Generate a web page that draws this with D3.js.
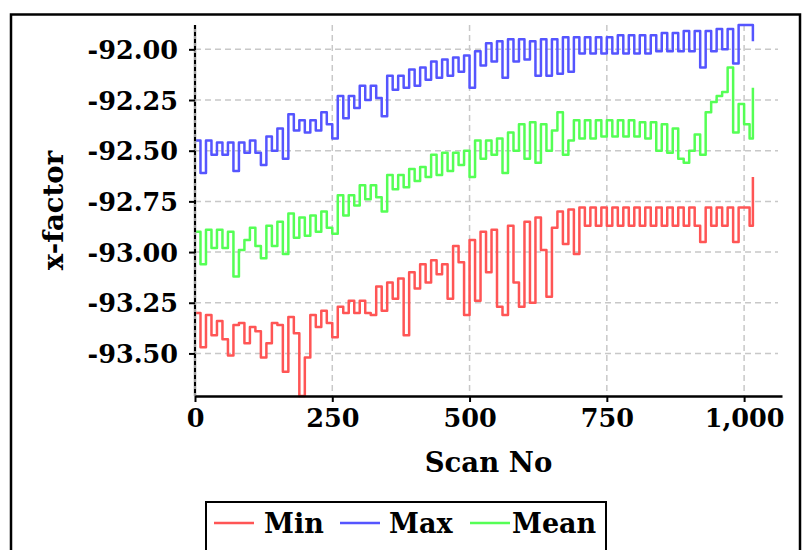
<!DOCTYPE html>
<html>
<head>
<meta charset="utf-8">
<script src="https://cdn.jsdelivr.net/npm/d3@7"></script>
<style>
	body { margin: 0; background: #fff; }
	text { font-family: "DejaVu Serif", serif; font-weight: bold; fill: #000; }
</style>
</head>
<body>
<div id="chart"></div>
<script>
// data: one value every 10 scans, last one at scan 1016
var seriesNames = ["Min", "Max", "Mean"];
var seriesColors = ["#ff5555", "#5555ff", "#55ff55"];

var minValues = [
	-93.30,-93.47,-93.31,-93.41,-93.34,-93.43,-93.51,-93.36,-93.35,-93.45,
	-93.37,-93.39,-93.52,-93.45,-93.35,-93.36,-93.59,-93.32,-93.40,-93.71,
	-93.52,-93.31,-93.37,-93.29,-93.35,-93.42,-93.27,-93.30,-93.24,-93.30,
	-93.24,-93.30,-93.31,-93.17,-93.29,-93.15,-93.23,-93.13,-93.41,-93.10,
	-93.18,-93.06,-93.15,-93.04,-93.11,-93.06,-93.23,-92.97,-93.05,-93.31,
	-92.94,-93.24,-92.90,-93.10,-92.89,-93.27,-93.31,-92.87,-93.15,-93.27,
	-92.85,-93.25,-92.83,-92.99,-93.22,-92.88,-92.80,-92.96,-92.79,-93.01,
	-92.78,-92.87,-92.78,-92.87,-92.78,-92.87,-92.78,-92.87,-92.78,-92.87,
	-92.78,-92.87,-92.78,-92.87,-92.78,-92.87,-92.78,-92.87,-92.78,-92.87,
	-92.78,-92.87,-92.95,-92.78,-92.87,-92.78,-92.87,-92.78,-92.95,-92.78,
	-92.78,-92.87,-92.63
];

var maxValues = [
	-92.45,-92.61,-92.45,-92.52,-92.46,-92.52,-92.46,-92.60,-92.46,-92.51,
	-92.45,-92.51,-92.57,-92.43,-92.50,-92.39,-92.54,-92.32,-92.40,-92.35,
	-92.41,-92.35,-92.40,-92.31,-92.37,-92.44,-92.23,-92.34,-92.23,-92.29,
	-92.18,-92.25,-92.18,-92.24,-92.33,-92.13,-92.20,-92.13,-92.19,-92.10,
	-92.18,-92.09,-92.15,-92.06,-92.14,-92.05,-92.13,-92.04,-92.11,-92.03,
	-92.19,-92.01,-92.08,-91.97,-92.06,-91.96,-92.14,-91.95,-92.06,-91.95,
	-92.05,-91.96,-92.13,-91.95,-92.13,-91.95,-92.12,-91.94,-92.11,-91.94,
	-92.02,-91.94,-92.02,-91.94,-92.02,-91.94,-92.02,-91.93,-92.02,-91.93,
	-92.02,-91.93,-92.02,-91.93,-92.01,-91.92,-92.01,-91.92,-92.01,-91.91,
	-92.01,-91.91,-92.09,-91.91,-92.01,-91.90,-92.00,-91.90,-92.07,-91.88,
	-91.88,-91.88,-91.96
];

var meanValues = [
	-92.90,-93.06,-92.89,-92.98,-92.89,-92.98,-92.90,-93.12,-92.99,-92.94,
	-92.88,-92.97,-93.03,-92.87,-92.97,-92.85,-93.01,-92.81,-92.93,-92.83,
	-92.92,-92.82,-92.90,-92.80,-92.88,-92.91,-92.72,-92.82,-92.72,-92.77,
	-92.67,-92.74,-92.67,-92.73,-92.80,-92.62,-92.69,-92.62,-92.68,-92.59,
	-92.65,-92.58,-92.63,-92.52,-92.62,-92.51,-92.60,-92.51,-92.57,-92.50,
	-92.63,-92.45,-92.54,-92.45,-92.52,-92.44,-92.61,-92.41,-92.50,-92.37,
	-92.54,-92.36,-92.56,-92.37,-92.50,-92.40,-92.31,-92.52,-92.45,-92.35,
	-92.44,-92.35,-92.44,-92.35,-92.43,-92.35,-92.43,-92.35,-92.43,-92.35,
	-92.43,-92.36,-92.44,-92.36,-92.50,-92.37,-92.51,-92.39,-92.54,-92.56,
	-92.50,-92.42,-92.52,-92.31,-92.26,-92.23,-92.21,-92.09,-92.41,-92.27,
	-92.37,-92.44,-92.19
];

var scanStep = 10, lastScan = 1016;
var xTicks = [0, 250, 500, 750, 1000];
var yTicks = [-92.00, -92.25, -92.50, -92.75, -93.00, -93.25, -93.50];

// magic numbers
var width = 812, height = 550;
var plot = {left: 195, right: 782, top: 25, bottom: 396};

var svg = d3.select("#chart").append("svg")
		.attr("width", width)
		.attr("height", height);

// outer frame, runs off the bottom of the picture
svg.append("rect")
		.attr("x", 11)
		.attr("y", 14.5)
		.attr("width", 789)
		.attr("height", 600)
		.attr("fill", "none")
		.attr("stroke", "#000")
		.attr("stroke-width", 2.5);

function scanOf(i, arr){ return i == arr.length - 1 ? lastScan : i * scanStep; }

var series = [minValues, maxValues, meanValues].map(function(vals, k){
	return {
		name: seriesNames[k],
		color: seriesColors[k],
		points: vals.map(function(v, i){ return {scan: scanOf(i, vals), value: v}; })
	};
});

var allValues = minValues.concat(maxValues, meanValues);

var x = d3.scaleLinear()
		.domain([0, 1069])
		.range([plot.left, plot.right]);

var y = d3.scaleLinear()
		.domain(d3.extent(allValues))
		.range([plot.bottom, plot.top]);

// grid
var grid = svg.append("g").attr("class", "grid");

grid.selectAll(".hgrid")
		.data(yTicks)
	.enter().append("line")
		.attr("x1", plot.left)
		.attr("x2", plot.right - 4)
		.attr("y1", function(d){ return y(d); })
		.attr("y2", function(d){ return y(d); })
		.attr("stroke", "#c8c8c8")
		.attr("stroke-width", 1.5)
		.attr("stroke-dasharray", "6,4");

grid.selectAll(".vgrid")
		.data(xTicks.slice(1))
	.enter().append("line")
		.attr("x1", function(d){ return x(d); })
		.attr("x2", function(d){ return x(d); })
		.attr("y1", plot.top)
		.attr("y2", plot.bottom)
		.attr("stroke", "#c8c8c8")
		.attr("stroke-width", 1.5)
		.attr("stroke-dasharray", "6,4");

// lines
var line = d3.line()
		.curve(d3.curveStepAfter)
		.x(function(d){ return x(d.scan); })
		.y(function(d){ return y(d.value); });

svg.append("g").selectAll(".series")
		.data(series)
	.enter().append("path")
		.attr("class", "series")
		.attr("d", function(d){ return line(d.points); })
		.attr("fill", "none")
		.attr("stroke", function(d){ return d.color; })
		.attr("stroke-width", 2.5)
		.attr("stroke-linejoin", "round");

// y axis
var yAxis = svg.append("g")
		.attr("class", "y axis")
		.attr("transform", "translate(" + plot.left + ",0)")
		.call(d3.axisLeft(y).tickValues(yTicks).tickSize(6).tickSizeOuter(0).tickPadding(11)
			.tickFormat(function(d){ return d.toFixed(2); }));

yAxis.select(".domain")
		.attr("stroke", "#999")
		.attr("stroke-width", 2.5)
		.attr("d", "M0," + plot.top + "V" + plot.bottom);

yAxis.append("line")
		.attr("y1", plot.top)
		.attr("y2", plot.bottom)
		.attr("stroke", "#000")
		.attr("stroke-width", 2)
		.attr("stroke-dasharray", "4,3");

yAxis.selectAll(".tick line").attr("stroke", "#000").attr("stroke-width", 2);
yAxis.selectAll("text").style("font-size", "25.5px").attr("dy", "0.36em");

// x axis
var xAxis = svg.append("g")
		.attr("class", "x axis")
		.attr("transform", "translate(0," + plot.bottom + ")")
		.call(d3.axisBottom(x).tickValues(xTicks).tickSize(6).tickSizeOuter(0).tickPadding(7)
			.tickFormat(d3.format(",")));

xAxis.select(".domain").attr("stroke", "#000").attr("stroke-width", 2.5);
xAxis.selectAll(".tick line").attr("stroke", "#000").attr("stroke-width", 2);
xAxis.selectAll("text").style("font-size", "25.5px");

// titles
svg.append("text")
		.attr("x", (plot.left + plot.right) / 2)
		.attr("y", 472)
		.attr("text-anchor", "middle")
		.style("font-size", "27.5px")
		.text("Scan No");

svg.append("text")
		.attr("transform", "translate(63," + (plot.top + plot.bottom) / 2 + ") rotate(-90)")
		.attr("text-anchor", "middle")
		.style("font-size", "27.5px")
		.text("x-factor");

// legend
var legend = svg.append("g").attr("class", "legend");

legend.append("rect")
		.attr("x", 206)
		.attr("y", 502)
		.attr("width", 400)
		.attr("height", 70)
		.attr("fill", "#fff")
		.attr("stroke", "#000")
		.attr("stroke-width", 2);

var legendLineX = [214, 340, 470],
	legendTextX = [264, 389, 512];

var item = legend.selectAll(".legend-item")
		.data(series)
	.enter().append("g")
		.attr("class", "legend-item");

item.append("line")
		.attr("x1", function(d, i){ return legendLineX[i]; })
		.attr("x2", function(d, i){ return legendLineX[i] + 40; })
		.attr("y1", 523)
		.attr("y2", 523)
		.attr("stroke", function(d){ return d.color; })
		.attr("stroke-width", 2.5);

item.append("text")
		.attr("x", function(d, i){ return legendTextX[i]; })
		.attr("y", 523)
		.attr("dy", "0.36em")
		.style("font-size", "27px")
		.text(function(d){ return d.name; });
</script>
</body>
</html>
